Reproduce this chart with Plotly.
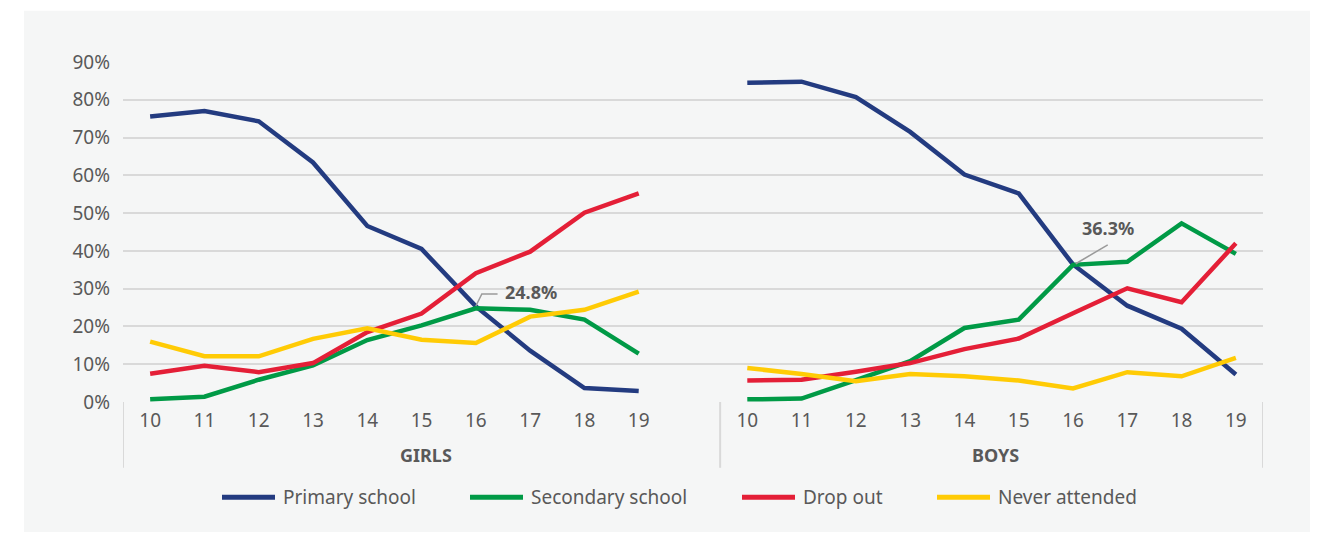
import plotly.graph_objects as go

# Ages shown in each group
ages = [10, 11, 12, 13, 14, 15, 16, 17, 18, 19]
groups = ["GIRLS", "BOYS"]

series_names = ["Primary school", "Secondary school", "Drop out", "Never attended"]
series_colors = ["#233b80", "#009a46", "#e41f37", "#ffcb05"]

# Share of children (%) by age
girls_primary = [75.6, 77.0, 74.3, 63.4, 46.6, 40.5, 25.3, 13.6, 3.7, 2.9]
girls_secondary = [0.7, 1.4, 5.9, 9.7, 16.4, 20.3, 24.8, 24.4, 21.8, 12.8]
girls_dropout = [7.5, 9.6, 7.9, 10.3, 18.5, 23.4, 34.1, 39.8, 50.1, 55.2]
girls_never = [16.0, 12.1, 12.1, 16.7, 19.5, 16.5, 15.6, 22.6, 24.4, 29.2]

boys_primary = [84.5, 84.8, 80.7, 71.5, 60.2, 55.2, 36.4, 25.5, 19.4, 7.3]
boys_secondary = [0.7, 0.9, 5.8, 10.8, 19.6, 21.8, 36.3, 37.1, 47.3, 39.2]
boys_dropout = [5.7, 5.9, 8.0, 10.3, 14.0, 16.8, 23.5, 30.1, 26.4, 42.0]
boys_never = [9.0, 7.4, 5.5, 7.4, 6.8, 5.7, 3.6, 7.9, 6.8, 11.7]

girls = [girls_primary, girls_secondary, girls_dropout, girls_never]
boys = [boys_primary, boys_secondary, boys_dropout, boys_never]

y_ticks = [0, 10, 20, 30, 40, 50, 60, 70, 80, 90]

# Both groups share one axis; one empty slot separates them
n_slots = len(ages) * 2 + 1
girls_x = list(range(len(ages)))
boys_x = [i + len(ages) + 1 for i in range(len(ages))]

TEXT = "#595959"
GRID = "#d9d9d9"
FONT = "Noto Sans"

fig = go.Figure()
for name, color, g_vals, b_vals in zip(series_names, series_colors, girls, boys):
    for xs, vals in ((girls_x, g_vals), (boys_x, b_vals)):
        fig.add_trace(go.Scatter(
            x=xs, y=vals, mode="lines", name=name, showlegend=False,
            line=dict(color=color, width=4.5),
            hoverinfo="skip",
        ))

shapes = []
# light panel behind the chart
shapes.append(dict(type="rect", xref="paper", yref="paper",
                   x0=-99 / 1140, x1=1187 / 1140, y0=-130.5 / 341, y1=392.5 / 341,
                   fillcolor="#f5f6f6", line=dict(width=0), layer="below"))
# group separators under the axis
sep_x = [-0.5, len(ages) + 0.5, n_slots - 0.5]
for xv in sep_x:
    shapes.append(dict(type="line", xref="x", yref="paper", x0=xv, x1=xv,
                       y0=0, y1=-66 / 341, line=dict(color=GRID, width=2)))

annotations = []
# group titles, centred in their bands
for title, a, b in ((groups[0], sep_x[0], sep_x[1]), (groups[1], sep_x[1], sep_x[2])):
    annotations.append(dict(x=(a + b) / 2 + 0.08, y=-53 / 341, xref="x", yref="paper",
                            yanchor="middle", text="<b>%s</b>" % title, showarrow=False,
                            font=dict(family=FONT, size=18, color=TEXT)))

# callout: girls, secondary school at 16
gi = ages.index(16)
gx, gy = girls_x[gi], girls_secondary[gi]
shapes.append(dict(type="path", xref="x", yref="y",
                   path="M %f,%f L %f,%f L %f,%f" % (gx, gy + 0.6, gx + 0.11, gy + 3.8, gx + 0.4, gy + 3.8),
                   line=dict(color="#9a9a9a", width=1.5)))
annotations.append(dict(x=gx + 0.5, y=gy + 4.2, xref="x", yref="y", xanchor="left",
                        yanchor="middle", text="<b>%.1f%%</b>" % gy, showarrow=False,
                        font=dict(family=FONT, size=18, color=TEXT)))

# callout: boys, secondary school at 16
bx, by = boys_x[gi], boys_secondary[gi]
shapes.append(dict(type="line", xref="x", yref="y", x0=bx + 0.05, y0=by + 0.3,
                   x1=bx + 0.64, y1=by + 5.3, line=dict(color="#9a9a9a", width=1.5)))
annotations.append(dict(x=bx + 0.64, y=by + 9.8, xref="x", yref="y",
                        yanchor="middle", text="<b>%.1f%%</b>" % by, showarrow=False,
                        font=dict(family=FONT, size=18, color=TEXT)))

# legend row
legend_px = [222, 470, 742, 937]
for name, color, px in zip(series_names, series_colors, legend_px):
    x0 = (px - 123) / 1140
    x1 = (px + 53 - 123) / 1140
    yl = -95.5 / 341
    shapes.append(dict(type="line", xref="paper", yref="paper", x0=x0, x1=x1,
                       y0=yl, y1=yl, line=dict(color=color, width=5)))
    annotations.append(dict(x=(px + 59 - 123) / 1140, y=yl, xref="paper", yref="paper",
                            xanchor="left", yanchor="middle", text=name, showarrow=False,
                            font=dict(family=FONT, size=19, color=TEXT)))

tick_vals = girls_x + boys_x
tick_text = [str(a) for a in ages] * 2

fig.update_layout(
    width=1322, height=533,
    margin=dict(l=123, r=59, t=61.5, b=130.5),
    paper_bgcolor="white",
    plot_bgcolor="rgba(0,0,0,0)",
    shapes=shapes,
    annotations=annotations,
    showlegend=False,
    xaxis=dict(range=[-0.5, n_slots - 0.5], tickvals=tick_vals, ticktext=tick_text,
               showgrid=False, zeroline=False, showline=False, ticks="",
               ticklabelstandoff=5,
               tickfont=dict(family=FONT, size=19, color=TEXT), fixedrange=True),
    yaxis=dict(range=[0, 90], tickvals=y_ticks, ticktext=["%d%%" % v for v in y_ticks],
               showgrid=True, gridcolor=GRID, gridwidth=2, zeroline=False, showline=False,
               ticks="", ticklabelstandoff=12,
               tickfont=dict(family=FONT, size=19, color=TEXT), fixedrange=True),
)

fig.write_html("out.html")
